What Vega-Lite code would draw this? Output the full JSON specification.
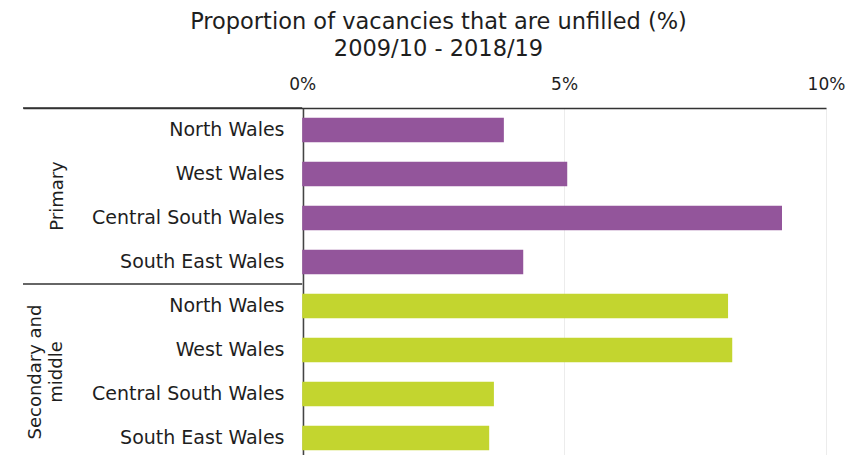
{
  "$schema": "https://vega.github.io/schema/vega-lite/v6.json",
  "width": 803,
  "height": 352,
  "padding": {"left": 22, "top": 10, "right": 5, "bottom": 0},
  "background": "white",
  "config": {"view": {"stroke": null}, "font": "DejaVu Sans"},
  "title": {
    "text": ["Proportion of vacancies that are unfilled (%)", "2009/10 - 2018/19"],
    "fontSize": 22.5,
    "fontWeight": "normal",
    "font": "DejaVu Sans",
    "color": "#1e1e1e",
    "lineHeight": 27,
    "offset": 15,
    "anchor": "middle",
    "dx": 14
  },
  "layer": [
    {
      "data": {
        "values": [
          {"key": "Primary: North Wales", "group": "Primary", "region": "North Wales", "value": 3.85},
          {"key": "Primary: West Wales", "group": "Primary", "region": "West Wales", "value": 5.06},
          {"key": "Primary: Central South Wales", "group": "Primary", "region": "Central South Wales", "value": 9.16},
          {"key": "Primary: South East Wales", "group": "Primary", "region": "South East Wales", "value": 4.22},
          {"key": "Secondary and middle: North Wales", "group": "Secondary and middle", "region": "North Wales", "value": 8.13},
          {"key": "Secondary and middle: West Wales", "group": "Secondary and middle", "region": "West Wales", "value": 8.21},
          {"key": "Secondary and middle: Central South Wales", "group": "Secondary and middle", "region": "Central South Wales", "value": 3.66},
          {"key": "Secondary and middle: South East Wales", "group": "Secondary and middle", "region": "South East Wales", "value": 3.57}
        ]
      },
      "mark": {"type": "bar"},
      "encoding": {
        "y": {
          "field": "key",
          "type": "nominal",
          "sort": null,
          "scale": {"paddingInner": 0.445, "paddingOuter": 0.2225},
          "axis": {
            "orient": "left",
            "offset": -280,
            "labelExpr": "split(datum.label, ': ')[1]",
            "ticks": false,
            "tickSize": 0,
            "labelPadding": 19,
            "domainColor": "#444444",
            "domainWidth": 1.5,
            "labelFontSize": 19,
            "labelFont": "DejaVu Sans",
            "labelColor": "#1e1e1e",
            "labelLimit": 300,
            "title": null,
            "grid": false
          }
        },
        "x": {
          "field": "value",
          "type": "quantitative",
          "scale": {"domain": [-5.33, 10], "nice": false, "zero": false},
          "axis": {
            "orient": "top",
            "values": [0, 5, 10],
            "labelExpr": "datum.value + '%'",
            "title": null,
            "grid": true,
            "gridColor": "#ececec",
            "gridWidth": 1,
            "ticks": false,
            "tickSize": 0,
            "labelPadding": 15,
            "domainColor": "#333333",
            "domainWidth": 1.5,
            "labelFontSize": 17,
            "labelFont": "DejaVu Sans",
            "labelColor": "#1e1e1e",
            "labelFlush": false
          }
        },
        "x2": {"datum": 0},
        "color": {
          "field": "group",
          "type": "nominal",
          "scale": {"domain": ["Primary", "Secondary and middle"], "range": ["#93559b", "#c3d52f"]},
          "legend": null
        }
      }
    },
    {
      "data": {"values": [{"group": "Primary"}, {"group": "Secondary and middle"}]},
      "mark": {"type": "rule", "color": "#333333", "strokeWidth": 1.5},
      "encoding": {
        "y": {
          "field": "group",
          "type": "nominal",
          "bandPosition": 0,
          "scale": {"domain": ["Primary", "Secondary and middle"], "paddingInner": 0, "paddingOuter": 0},
          "axis": {
            "orient": "left",
            "offset": -43,
            "domain": false,
            "ticks": false,
            "tickSize": 0,
            "labelPadding": {"condition": {"test": "datum.value == 'Secondary and middle'", "value": 22}, "value": 0},
            "labelAngle": 270,
            "labelAlign": "center",
            "labelBaseline": "bottom",
            "labelLineHeight": 21,
            "labelExpr": "datum.label == 'Secondary and middle' ? ['Secondary and', 'middle'] : datum.label",
            "labelFontSize": 18,
            "labelFont": "DejaVu Sans",
            "labelColor": "#1e1e1e",
            "title": null,
            "grid": false
          }
        },
        "x": {"datum": -5.33, "type": "quantitative"},
        "x2": {"datum": 0}
      }
    }
  ],
  "resolve": {"scale": {"y": "independent"}}
}
